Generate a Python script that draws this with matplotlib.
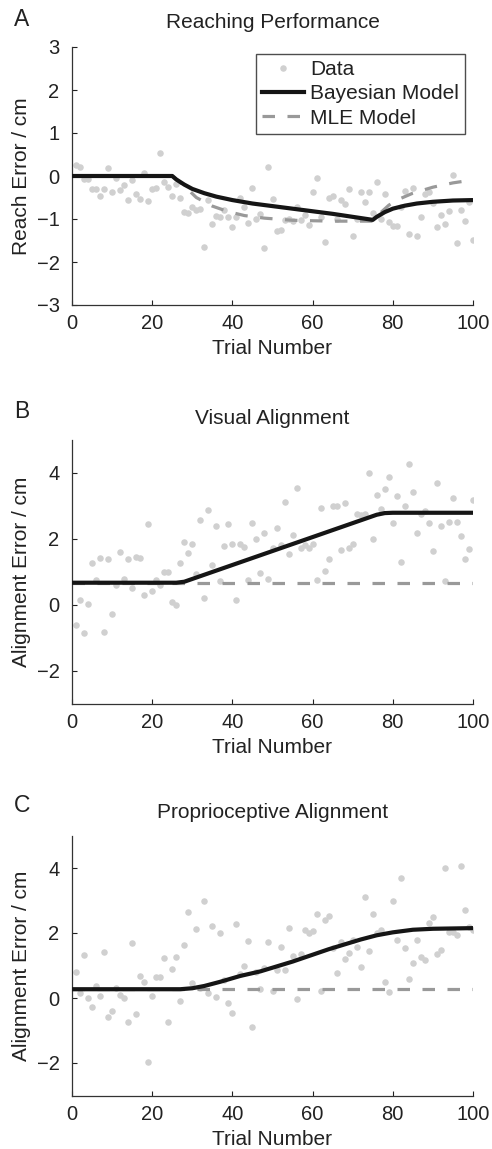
import numpy as np
import matplotlib
matplotlib.use("Agg")
import matplotlib.pyplot as plt
from matplotlib.lines import Line2D

plt.rcParams['font.family'] = ['Liberation Sans', 'DejaVu Sans']
plt.rcParams['lines.scale_dashes'] = False

W, H = 492, 1149

trials = list(range(1, 101))

reach_data = [0.26, 0.22, -0.07, -0.07, -0.31, -0.31, -0.47, -0.31, 0.18, -0.37,
              -0.05, -0.32, -0.21, -0.56, -0.1, -0.42, -0.54, 0.08, -0.58, -0.31,
              -0.29, 0.53, -0.15, -0.26, -0.46, -0.18, -0.51, -0.84, -0.87, -0.73,
              -0.79, -0.77, -1.65, -0.56, -1.12, -0.93, -0.96, -0.79, -0.96, -1.18,
              -0.96, -0.51, -0.73, -1.1, -0.29, -1.0, -0.88, -1.68, 0.2, -0.54,
              -1.27, -1.25, -1.02, -1.0, -1.05, -0.72, -1.03, -0.9, -1.14, -0.37,
              -0.04, -0.96, -1.54, -0.5, -0.46, -1.0, -0.55, -0.64, -0.31, -1.39,
              -1.0, -0.37, -0.6, -0.37, -0.86, -0.15, -1.0, -0.42, -1.08, -1.16,
              -1.16, -0.72, -0.36, -1.35, -0.28, -1.39, -0.96, -0.43, -0.37, -0.62,
              -1.18, -0.91, -1.12, -0.82, 0.02, -1.56, -0.8, -1.04, -0.6, -1.48]

visual_data = [-0.61, 0.15, -0.86, 0.01, 1.26, 0.74, 1.41, -0.84, 1.38, -0.28,
               0.6, 1.6, 0.76, 1.39, 0.51, 1.43, 1.41, 0.28, 2.44, 0.4,
               0.74, 0.6, 0.99, 0.99, 0.08, -0.02, 1.26, 1.9, 1.57, 1.84,
               0.91, 2.56, 0.2, 2.86, 1.19, 2.37, 0.7, 1.77, 2.44, 1.84,
               0.13, 1.84, 1.73, 0.75, 2.47, 1.97, 0.95, 2.17, 0.76, 1.7,
               2.32, 1.79, 3.11, 1.54, 2.1, 3.54, 1.72, 1.79, 1.72, 1.82,
               0.73, 2.93, 1.01, 1.38, 2.98, 3.0, 1.64, 3.08, 1.72, 1.84,
               2.73, 2.7, 2.73, 3.97, 2.0, 3.33, 2.88, 3.5, 3.87, 2.47,
               3.3, 1.29, 2.98, 4.26, 3.4, 2.17, 2.73, 2.83, 2.47, 1.62,
               3.69, 2.37, 0.71, 2.5, 3.23, 2.5, 2.09, 1.39, 1.67, 3.18]

prop_data = [0.79, 0.15, 1.31, 0.01, -0.27, 0.38, 0.07, 1.42, -0.57, -0.4,
             0.32, 0.1, 0.01, -0.75, 1.68, -0.5, 0.68, 0.5, -1.96, 0.06,
             0.66, 0.66, 1.22, -0.75, 0.89, 1.25, -0.09, 1.63, 2.65, 0.45,
             2.11, 0.3, 3.0, 0.15, 2.23, 0.04, 2.01, 0.55, -0.14, -0.45,
             2.28, 0.74, 0.99, 1.75, -0.89, 0.8, 0.27, 0.91, 1.73, 0.22,
             0.86, 1.58, 0.85, 2.14, 1.29, -0.04, 1.35, 2.09, 2.0, 2.06,
             2.58, 0.23, 2.4, 2.53, 1.53, 0.76, 1.73, 1.19, 1.4, 1.79,
             1.56, 0.94, 3.12, 1.46, 2.58, 2.0, 2.1, 0.48, 0.19, 2.99,
             1.79, 3.7, 1.53, 0.58, 1.07, 1.79, 1.25, 1.17, 2.3, 2.5,
             1.35, 1.48, 4.01, 2.03, 2.03, 1.93, 4.07, 2.71, 2.18, 2.1]

# Model curves (trial, value)
reach_bayes_t = [0, 25, 26, 28, 30, 33, 36, 40, 45, 50, 55, 60, 65, 70, 75, 76, 78, 80, 83, 86, 90, 95, 100]
reach_bayes_v = [0, 0, -0.08, -0.2, -0.3, -0.4, -0.48, -0.56, -0.64, -0.7, -0.76, -0.82, -0.88, -0.95, -1.02,
                 -0.95, -0.84, -0.76, -0.69, -0.64, -0.6, -0.57, -0.56]
reach_mle_t = [0, 25, 27, 29, 31, 35, 39, 43, 48, 55, 65, 75, 77, 79, 81, 85, 90, 95, 100]
reach_mle_v = [0, 0, -0.15, -0.32, -0.5, -0.7, -0.83, -0.92, -0.98, -1.03, -1.05, -1.05,
               -0.85, -0.68, -0.56, -0.4, -0.26, -0.16, -0.09]

vis_bayes_t = [0, 26, 28, 76, 78, 80, 100]
vis_bayes_v = [0.66, 0.66, 0.69, 2.72, 2.77, 2.78, 2.78]
vis_mle_t = [0, 100]
vis_mle_v = [0.66, 0.66]

prop_bayes_t = [0, 27, 30, 33, 37, 42, 47, 55, 64, 72, 76, 80, 85, 90, 100]
prop_bayes_v = [0.27, 0.27, 0.3, 0.37, 0.5, 0.68, 0.82, 1.12, 1.5, 1.8, 1.93, 2.02, 2.1, 2.13, 2.15]
prop_mle_t = [0, 100]
prop_mle_v = [0.27, 0.27]

titles = ["Reaching Performance", "Visual Alignment", "Proprioceptive Alignment"]
letters = ["A", "B", "C"]
ylabels = ["Reach Error / cm", "Alignment Error / cm", "Alignment Error / cm"]
xticks = [0, 20, 40, 60, 80, 100]
yticks_list = [[-3, -2, -1, 0, 1, 2, 3], [-2, 0, 2, 4], [-2, 0, 2, 4]]
ylims = [(-3, 3), (-3, 5), (-3, 5)]

DOT = '#d0d0d0'
DASH = '#999999'
FS = 14.5

fig = plt.figure(figsize=(W / 100, H / 100), dpi=100)

# axes rects in pixels: left, top, right, bottom
rects = [(72, 47, 473, 305), (72, 439.5, 473, 703.5), (72, 835.5, 473, 1095.5)]
title_y = [22, 418, 813]
letter_y = [20, 412, 806]

series = [
    (reach_data, reach_bayes_t, reach_bayes_v, reach_mle_t, reach_mle_v),
    (visual_data, vis_bayes_t, vis_bayes_v, vis_mle_t, vis_mle_v),
    (prop_data, prop_bayes_t, prop_bayes_v, prop_mle_t, prop_mle_v),
]

for i, (l, t, r, b) in enumerate(rects):
    ax = fig.add_axes([l / W, 1 - b / H, (r - l) / W, (b - t) / H])
    data, bt, bv, mt, mv = series[i]
    ax.plot(trials, data, 'o', color=DOT, markersize=4.7, markeredgewidth=0, zorder=1)
    ax.plot(mt, mv, color=DASH, lw=2.3, linestyle=(0, (9, 9)), zorder=2)
    ax.plot(bt, bv, color='#151515', lw=3.0, zorder=3, solid_capstyle='butt')
    ax.set_xlim(0, 100)
    ax.set_ylim(*ylims[i])
    ax.set_xticks(xticks)
    ax.set_yticks(yticks_list[i])
    ax.tick_params(direction='in', length=3.5, width=0.8, labelsize=FS, colors='#222222')
    ax.tick_params(axis='x', pad=6.5)
    ax.tick_params(axis='y', pad=9.0)
    for s in ['top', 'right']:
        ax.spines[s].set_visible(False)
    for s in ['left', 'bottom']:
        ax.spines[s].set_linewidth(0.9)
        ax.spines[s].set_color('#333333')
    ax.patch.set_visible(False)
    ax.set_xlabel("Trial Number", fontsize=FS + 0.5, color='#222222', labelpad=4.5)
    ax.set_ylabel(ylabels[i], fontsize=FS + 0.5, color='#222222', labelpad=4)
    fig.text(272.5 / W, 1 - title_y[i] / H, titles[i], fontsize=FS + 0.5, ha='center', va='center',
             color='#222222')
    fig.text(22 / W, 1 - letter_y[i] / H, letters[i], fontsize=FS + 2, ha='center', va='center',
             color='#222222')
    if i == 0:
        handles = [Line2D([], [], marker='o', ls='none', color=DOT, markersize=4.7, markeredgewidth=0),
                   Line2D([], [], color='#151515', lw=3.0),
                   Line2D([], [], color=DASH, lw=2.3, linestyle=(0, (9, 9)))]
        leg = ax.legend(handles, ["Data", "Bayesian Model", "MLE Model"],
                        loc='upper right', bbox_to_anchor=(465 / W, 1 - 54 / H),
                        bbox_transform=fig.transFigure, fontsize=FS + 0.5,
                        frameon=True, fancybox=False, borderaxespad=0,
                        handlelength=2.0, handletextpad=0.3, labelspacing=0.25,
                        borderpad=0.3)
        leg.get_frame().set_edgecolor('#222222')
        leg.get_frame().set_linewidth(1.0)
        for txt in leg.get_texts():
            txt.set_color('#222222')

fig.savefig("out.png", dpi=100)
